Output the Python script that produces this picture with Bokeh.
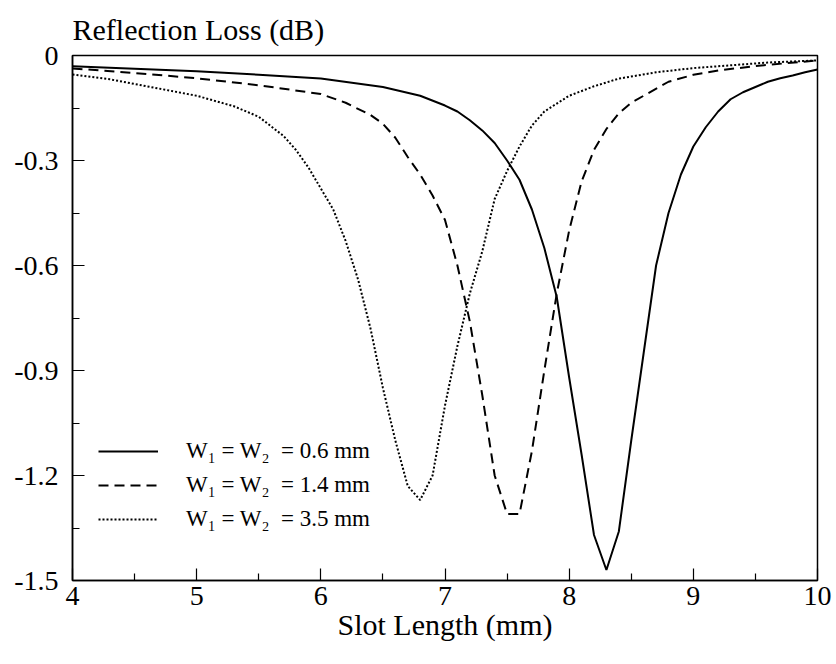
from bokeh.plotting import figure
from bokeh.embed import file_html
from bokeh.resources import INLINE
from bokeh.models import FixedTicker, Range1d, Legend, LegendItem

FONT = "Liberation Serif"

# ---- data ----
x_06 = [4.0, 4.5, 5.0, 5.5, 6.0, 6.5, 6.8, 7.0, 7.1, 7.2, 7.3, 7.4, 7.5, 7.6, 7.7, 7.8,
        7.9, 8.0, 8.1, 8.2, 8.3, 8.4, 8.5, 8.6, 8.7, 8.8, 8.9, 9.0, 9.1, 9.2, 9.3, 9.4,
        9.5, 9.6, 9.7, 9.8, 9.9, 10.0]
y_06 = [-0.031, -0.038, -0.045, -0.055, -0.066, -0.09, -0.115, -0.143, -0.16, -0.185,
        -0.214, -0.25, -0.3, -0.355, -0.44, -0.55, -0.69, -0.92, -1.14, -1.37, -1.47,
        -1.36, -1.1, -0.85, -0.6, -0.45, -0.34, -0.26, -0.205, -0.16, -0.125, -0.105,
        -0.09, -0.075, -0.065, -0.057, -0.048, -0.04]

x_14 = [4.0, 4.5, 5.0, 5.5, 6.0, 6.2, 6.4, 6.5, 6.6, 6.7, 6.8, 6.9, 7.0, 7.1, 7.2, 7.3,
        7.4, 7.5, 7.6, 7.7, 7.8, 7.9, 8.0, 8.1, 8.2, 8.3, 8.4, 8.5, 8.6, 8.8, 9.0, 9.2,
        9.5, 10.0]
y_14 = [-0.037, -0.05, -0.065, -0.085, -0.11, -0.135, -0.17, -0.195, -0.235, -0.29,
        -0.34, -0.4, -0.47, -0.6, -0.76, -0.97, -1.2, -1.31, -1.31, -1.13, -0.9, -0.68,
        -0.5, -0.36, -0.27, -0.21, -0.165, -0.135, -0.115, -0.075, -0.055, -0.043,
        -0.03, -0.014]

x_35 = [4.0, 4.3, 4.6, 5.0, 5.3, 5.5, 5.7, 5.8, 5.9, 6.0, 6.1, 6.2, 6.3, 6.4, 6.5, 6.6,
        6.7, 6.8, 6.9, 7.0, 7.1, 7.2, 7.3, 7.4, 7.5, 7.6, 7.7, 7.8, 8.0, 8.2, 8.4, 8.7,
        9.0, 9.3, 9.6, 10.0]
y_35 = [-0.054, -0.068, -0.088, -0.115, -0.145, -0.175, -0.23, -0.27, -0.32, -0.38,
        -0.44, -0.53, -0.64, -0.78, -0.95, -1.1, -1.23, -1.27, -1.2, -1.0, -0.83, -0.68,
        -0.56, -0.41, -0.33, -0.26, -0.2, -0.16, -0.115, -0.088, -0.066, -0.048, -0.036,
        -0.028, -0.02, -0.014]

labels = ["W\u2081 = W\u2082\u00a0 = 0.6 mm",
          "W\u2081 = W\u2082\u00a0 = 1.4 mm",
          "W\u2081 = W\u2082\u00a0 = 3.5 mm"]

x_ticks = [4, 5, 6, 7, 8, 9, 10]
x_minor = [4.5, 5.5, 6.5, 7.5, 8.5, 9.5]
y_ticks = [0, -0.3, -0.6, -0.9, -1.2, -1.5]
y_tick_labels = ["0", "-0.3", "-0.6", "-0.9", "-1.2", "-1.5"]
y_minor = [-0.15, -0.45, -0.75, -1.05, -1.35]

p = figure(width=836, height=664, output_backend="svg", toolbar_location=None,
           x_range=Range1d(4, 10), y_range=Range1d(-1.5, 0),
           min_border_left=72, min_border_right=19, min_border_top=55, min_border_bottom=84,
           title="Reflection Loss (dB)")

p.title.text_font = FONT
p.title.text_font_size = "30px"
p.title.text_font_style = "normal"
p.title.text_color = "black"
p.title.align = "left"
p.title.standoff = 20

p.xgrid.visible = False
p.ygrid.visible = False
p.outline_line_color = "black"
p.outline_line_width = 1.5
p.outline_line_alpha = 1.0
p.background_fill_color = "white"
p.border_fill_color = "white"

for ax in (p.xaxis[0], p.yaxis[0]):
    ax.axis_line_width = 1.5
    ax.axis_line_color = "black"
    ax.major_tick_in = 12
    ax.major_tick_out = 0
    ax.minor_tick_in = 7
    ax.minor_tick_out = 0
    ax.major_tick_line_width = 1.2
    ax.minor_tick_line_width = 1.2
    ax.major_tick_line_color = "black"
    ax.minor_tick_line_color = "black"
    ax.major_label_text_font = FONT
    ax.major_label_text_font_size = "28px"
    ax.major_label_text_color = "black"
    ax.axis_label_text_font = FONT
    ax.axis_label_text_font_size = "30px"
    ax.axis_label_text_font_style = "normal"
    ax.axis_label_text_color = "black"

p.xaxis.ticker = FixedTicker(ticks=x_ticks, minor_ticks=x_minor)
p.yaxis.ticker = FixedTicker(ticks=y_ticks, minor_ticks=y_minor)
p.yaxis.major_label_overrides = {t: l for t, l in zip(y_ticks, y_tick_labels)}
p.xaxis.major_label_standoff = 6
p.yaxis.major_label_standoff = 14
p.xaxis.axis_label = "Slot Length (mm)"
p.xaxis.axis_label_standoff = 0

r1 = p.line(x_06, y_06, line_color="black", line_width=2)
r2 = p.line(x_14, y_14, line_color="black", line_width=2, line_dash="10 6")
r3 = p.line(x_35, y_35, line_color="black", line_width=2, line_dash="2 2")

legend = Legend(items=[LegendItem(label=labels[0], renderers=[r1]),
                       LegendItem(label=labels[1], renderers=[r2]),
                       LegendItem(label=labels[2], renderers=[r3])],
                location=(22, 44), orientation="vertical")
legend.label_text_font = FONT
legend.label_text_font_size = "23px"
legend.label_text_color = "black"
legend.label_standoff = 28
legend.glyph_width = 60
legend.glyph_height = 22
legend.label_height = 22
legend.spacing = 8
legend.padding = 4
legend.margin = 0
legend.border_line_alpha = 0
legend.background_fill_alpha = 0
p.add_layout(legend)

open("out.html", "w").write(file_html(p, INLINE))
